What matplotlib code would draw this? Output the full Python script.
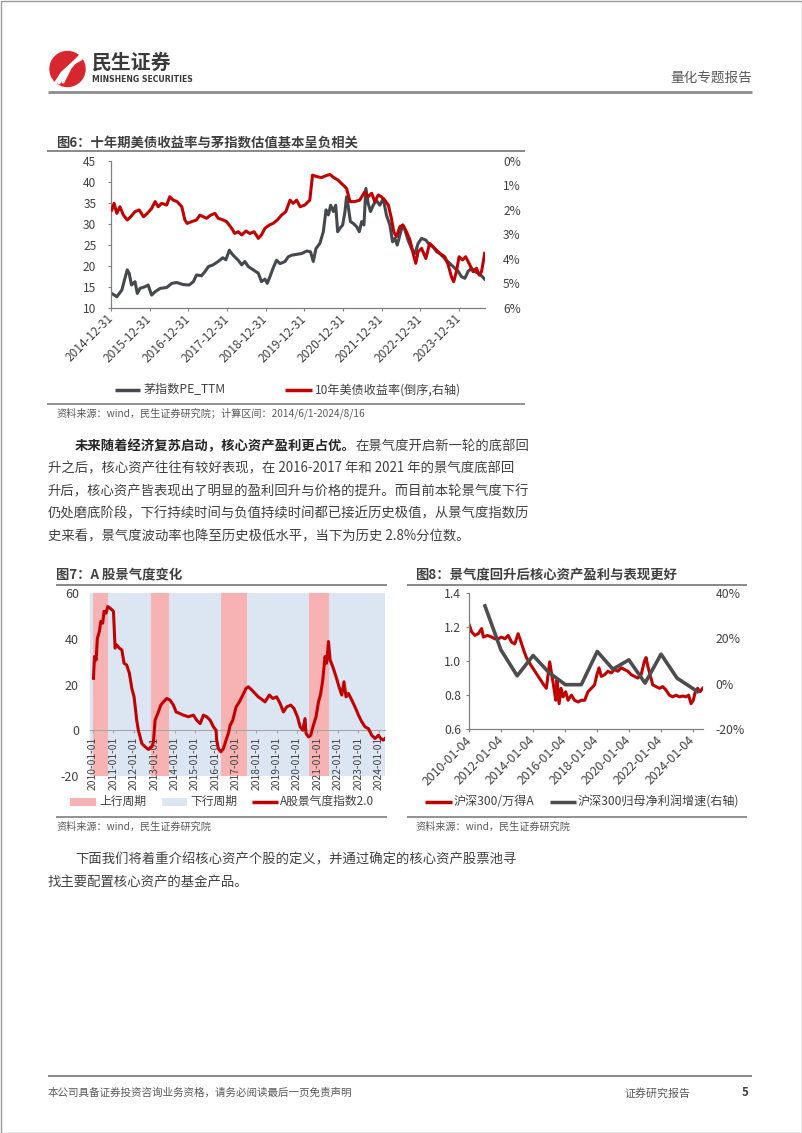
import matplotlib
matplotlib.use('Agg')
import matplotlib.pyplot as plt
from matplotlib.patches import Rectangle, Circle

plt.rcParams['font.family'] = ['Noto Sans CJK SC', 'DejaVu Sans']
plt.rcParams['axes.unicode_minus'] = False

W, H = 802, 1133
RED = '#c00000'
GRAY = '#45484c'
TXT = '#404040'
LINEGRAY = '#7f7f7f'
PINK = '#f7b3b4'
BLUE = '#dce6f2'

# ---- 图6 data (decimal years) ----
pe_year = [2015.02, 2015.15, 2015.28, 2015.36, 2015.42, 2015.47, 2015.53, 2015.62, 2015.68, 2015.75,
           2015.88, 2015.96, 2016.05, 2016.14, 2016.27, 2016.44, 2016.57, 2016.70, 2016.87, 2017.02,
           2017.13, 2017.21, 2017.34, 2017.43, 2017.52, 2017.64, 2017.77, 2017.89, 2017.97, 2018.06,
           2018.12, 2018.20, 2018.29, 2018.38, 2018.46, 2018.55, 2018.68, 2018.81, 2018.89, 2018.98,
           2019.04, 2019.11, 2019.19, 2019.28, 2019.37, 2019.50, 2019.58, 2019.67, 2019.80, 2019.93,
           2020.06, 2020.16, 2020.23, 2020.30, 2020.40, 2020.49, 2020.56, 2020.62, 2020.68, 2020.75,
           2020.81, 2020.86, 2020.92, 2020.99, 2021.05, 2021.09, 2021.13, 2021.19, 2021.26, 2021.35,
           2021.42, 2021.48, 2021.54, 2021.59, 2021.65, 2021.71, 2021.78, 2021.86, 2021.95, 2022.04,
           2022.12, 2022.21, 2022.28, 2022.34, 2022.40, 2022.47, 2022.54, 2022.60, 2022.68, 2022.77,
           2022.86, 2022.94, 2023.03, 2023.14, 2023.24, 2023.33, 2023.42, 2023.50, 2023.59, 2023.67,
           2023.80, 2023.89, 2023.98, 2024.06, 2024.15, 2024.23, 2024.32, 2024.41, 2024.49, 2024.58,
           2024.66]
pe_ttm = [13.4, 12.6, 14.2, 17.0, 19.0, 18.2, 15.4, 16.2, 13.4, 14.6,
          15.0, 15.4, 13.0, 13.8, 14.6, 14.8, 15.8, 16.0, 15.5, 15.4,
          16.2, 17.8, 17.6, 18.6, 19.8, 20.2, 21.0, 21.9, 21.4, 23.7,
          22.9, 22.1, 21.3, 20.2, 21.0, 19.8, 19.0, 18.2, 16.2, 16.8,
          15.8, 17.4, 19.4, 21.3, 20.5, 21.0, 22.1, 22.5, 22.7, 22.9,
          23.5, 23.3, 21.0, 24.1, 25.3, 28.1, 33.3, 32.1, 34.4, 32.9,
          34.4, 28.1, 28.9, 29.7, 32.9, 36.4, 34.4, 30.5, 30.1, 29.3,
          28.1, 30.5, 29.7, 38.4, 34.8, 32.9, 34.4, 35.6, 34.4, 36.0,
          32.1, 29.7, 25.7, 26.5, 24.9, 27.3, 29.7, 28.5, 26.1, 24.1,
          22.9, 25.3, 26.5, 26.1, 24.9, 24.5, 23.3, 22.9, 22.1, 21.3,
          20.2, 19.4, 18.6, 17.4, 17.0, 18.6, 19.4, 18.6, 18.2, 17.6,
          16.8]

ust_year = [2015.02, 2015.08, 2015.15, 2015.23, 2015.32, 2015.42, 2015.51, 2015.62, 2015.73, 2015.84,
            2015.94, 2016.05, 2016.14, 2016.22, 2016.31, 2016.44, 2016.52, 2016.61, 2016.71, 2016.83,
            2016.91, 2016.97, 2017.08, 2017.21, 2017.30, 2017.39, 2017.47, 2017.58, 2017.69, 2017.77,
            2017.90, 2017.99, 2018.12, 2018.20, 2018.29, 2018.38, 2018.49, 2018.59, 2018.70, 2018.81,
            2018.89, 2018.98, 2019.09, 2019.19, 2019.30, 2019.41, 2019.52, 2019.63, 2019.71, 2019.80,
            2019.89, 2020.01, 2020.14, 2020.21, 2020.32, 2020.44, 2020.56, 2020.66, 2020.76, 2020.87,
            2020.96, 2021.09, 2021.18, 2021.30, 2021.43, 2021.56, 2021.65, 2021.74, 2021.82, 2021.91,
            2021.99, 2022.08, 2022.17, 2022.25, 2022.31, 2022.38, 2022.47, 2022.55, 2022.64, 2022.73,
            2022.81, 2022.88, 2022.94, 2023.03, 2023.14, 2023.24, 2023.37, 2023.50, 2023.63, 2023.72,
            2023.80, 2023.86, 2023.93, 2024.00, 2024.09, 2024.17, 2024.28, 2024.36, 2024.45, 2024.52,
            2024.58, 2024.64, 2024.66]
ust_10y = [2.01, 1.74, 2.15, 1.88, 2.22, 2.42, 2.29, 2.08, 2.01, 2.29,
           2.15, 1.95, 1.67, 1.88, 1.74, 1.81, 1.47, 1.61, 1.67, 1.88,
           2.42, 2.56, 2.49, 2.42, 2.22, 2.29, 2.35, 2.22, 2.15, 2.35,
           2.42, 2.49, 2.76, 2.97, 2.90, 3.03, 2.87, 2.97, 2.90, 3.17,
           3.03, 2.76, 2.63, 2.56, 2.42, 2.22, 2.08, 1.61, 1.74, 1.61,
           1.88, 1.81, 1.61, 0.59, 0.65, 0.69, 0.61, 0.56, 0.69, 0.79,
           0.93, 1.13, 1.67, 1.67, 1.61, 1.27, 1.47, 1.33, 1.67, 1.40,
           1.47, 1.61, 1.81, 2.35, 2.90, 3.10, 2.69, 2.63, 2.90, 3.24,
           3.78, 4.19, 3.71, 3.58, 3.99, 3.37, 3.58, 3.78, 3.92, 4.26,
           4.73, 4.94, 4.53, 3.92, 4.05, 3.92, 4.26, 4.53, 4.39, 4.67,
           4.53, 3.99, 3.78]
fig6_ticks = [2015, 2016, 2017, 2018, 2019, 2020, 2021, 2022, 2023, 2024]
fig6_labels = ['2014-12-31', '2015-12-31', '2016-12-31', '2017-12-31', '2018-12-31',
               '2019-12-31', '2020-12-31', '2021-12-31', '2022-12-31', '2023-12-31']

# ---- 图7 data ----
up_start = [2010.00, 2012.83, 2016.27, 2020.57]
up_end = [2010.75, 2013.73, 2017.56, 2021.55]
boom_year = [2010.02, 2010.07, 2010.15, 2010.21, 2010.31, 2010.38, 2010.47, 2010.54, 2010.64, 2010.72,
             2010.83, 2010.92, 2011.00, 2011.08, 2011.16, 2011.29, 2011.41, 2011.52, 2011.65, 2011.78,
             2011.90, 2012.01, 2012.14, 2012.22, 2012.39, 2012.55, 2012.71, 2012.88, 2012.96, 2013.04,
             2013.20, 2013.32, 2013.45, 2013.61, 2013.77, 2013.94, 2014.07, 2014.26, 2014.43, 2014.67,
             2014.92, 2015.08, 2015.25, 2015.41, 2015.57, 2015.74, 2015.90, 2016.03, 2016.06, 2016.14,
             2016.26, 2016.39, 2016.52, 2016.63, 2016.72, 2016.85, 2017.01, 2017.17, 2017.34, 2017.50,
             2017.61, 2017.78, 2017.94, 2018.10, 2018.27, 2018.43, 2018.64, 2018.81, 2019.00, 2019.17,
             2019.33, 2019.49, 2019.69, 2019.85, 2020.02, 2020.15, 2020.28, 2020.39, 2020.44, 2020.56,
             2020.67, 2020.80, 2020.93, 2021.05, 2021.16, 2021.26, 2021.37, 2021.45, 2021.54, 2021.62,
             2021.75, 2021.91, 2022.08, 2022.19, 2022.30, 2022.40, 2022.52, 2022.68, 2022.84, 2023.01,
             2023.17, 2023.33, 2023.50, 2023.66, 2023.82, 2023.99, 2024.10, 2024.23, 2024.31]
boom_idx = [22.7, 32.2, 30.7, 40.2, 43.2, 47.6, 46.8, 52.0, 51.2, 54.1,
            53.4, 52.7, 52.0, 35.9, 37.3, 35.9, 35.1, 29.3, 28.5, 24.9,
            18.3, 14.6, 4.4, 0.0, -5.8, -7.2, -8.4, -7.2, -5.1, 4.4,
            8.0, 11.0, 12.4, 13.9, 13.2, 11.0, 8.0, 7.3, 6.6, 5.9,
            6.6, 4.4, 2.9, 6.6, 5.9, 4.4, 1.5, 0.0, -4.3, -8.0,
            -9.4, -8.0, -4.3, -1.4, 2.2, 4.4, 10.2, 12.4, 15.4, 18.3,
            19.0, 17.6, 16.1, 14.6, 13.5, 12.4, 15.4, 13.9, 14.6, 11.7,
            8.0, 10.2, 11.0, 9.5, 5.9, 1.5, 0.0, 5.1, -1.4, -2.9,
            -2.2, 2.2, 5.9, 12.4, 16.1, 22.0, 32.2, 29.3, 38.8, 30.7,
            27.8, 23.4, 18.3, 15.4, 21.2, 14.6, 16.1, 13.2, 10.2, 6.6,
            3.7, 1.5, 0.7, -2.2, -3.6, -2.2, -3.6, -4.3, -3.6]
fig7_ticks = list(range(2010, 2025))
fig7_labels = ['%d-01-01' % y for y in fig7_ticks]

# ---- 图8 data ----
ratio_year = [2010.00, 2010.15, 2010.35, 2010.56, 2010.77, 2010.88, 2011.13, 2011.40, 2011.60, 2011.81,
              2012.02, 2012.23, 2012.44, 2012.65, 2012.85, 2013.06, 2013.21, 2013.42, 2013.58, 2013.83,
              2014.04, 2014.25, 2014.46, 2014.67, 2014.83, 2015.04, 2015.15, 2015.29, 2015.42, 2015.50,
              2015.63, 2015.75, 2015.88, 2016.04, 2016.19, 2016.40, 2016.60, 2016.81, 2017.02, 2017.23,
              2017.44, 2017.65, 2017.85, 2018.00, 2018.13, 2018.27, 2018.48, 2018.69, 2018.90, 2019.10,
              2019.31, 2019.52, 2019.73, 2019.94, 2020.15, 2020.35, 2020.56, 2020.77, 2020.98, 2021.08,
              2021.19, 2021.33, 2021.50, 2021.71, 2021.92, 2022.13, 2022.33, 2022.54, 2022.75, 2022.96,
              2023.17, 2023.38, 2023.58, 2023.75, 2023.90, 2024.04, 2024.17, 2024.31, 2024.46, 2024.63]
hs300_wind = [1.21, 1.17, 1.15, 1.16, 1.19, 1.14, 1.15, 1.14, 1.13, 1.13,
              1.14, 1.13, 1.15, 1.11, 1.10, 1.16, 1.12, 1.06, 1.02, 0.98,
              0.95, 0.92, 0.89, 0.86, 0.84, 0.995, 0.93, 0.85, 0.77, 0.89,
              0.75, 0.84, 0.79, 0.82, 0.77, 0.80, 0.77, 0.76, 0.77, 0.77,
              0.82, 0.84, 0.86, 0.92, 0.96, 0.91, 0.92, 0.94, 0.93, 0.95,
              0.94, 0.96, 0.95, 0.94, 0.92, 0.91, 0.90, 0.92, 1.00, 1.02,
              0.97, 0.92, 0.86, 0.85, 0.84, 0.85, 0.83, 0.80, 0.79, 0.80,
              0.79, 0.795, 0.79, 0.80, 0.75, 0.77, 0.82, 0.84, 0.82, 0.84]
np_year = [2010.98, 2011.98, 2013.00, 2014.00, 2014.98, 2016.02, 2017.02, 2018.02,
           2019.00, 2020.00, 2021.02, 2022.02, 2023.02, 2024.30]
np_growth = [34.2, 14.9, 3.5, 12.4, 5.0, -0.4, -0.4, 14.2,
             6.4, 10.5, 0.3, 13.0, 2.5, -3.4]
fig8_ticks = [2010, 2012, 2014, 2016, 2018, 2020, 2022, 2024]
fig8_labels = ['%d-01-04' % y for y in fig8_ticks]

body1 = ['升之后，核心资产往往有较好表现，在 2016-2017 年和 2021 年的景气度底部回',
         '升后，核心资产皆表现出了明显的盈利回升与价格的提升。而目前本轮景气度下行',
         '仍处磨底阶段，下行持续时间与负值持续时间都已接近历史极值，从景气度指数历',
         '史来看，景气度波动率也降至历史极低水平，当下为历史 2.8%分位数。']

fig = plt.figure(figsize=(W / 100, H / 100), dpi=100)
bg = fig.add_axes([0, 0, 1, 1])
bg.set_xlim(0, W)
bg.set_ylim(H, 0)
bg.axis('off')


def px_axes(l, t, r, b):
    return fig.add_axes([l / W, 1 - b / H, (r - l) / W, (b - t) / H])


def hline(y, x0, x1, lw=1.2, color=LINEGRAY):
    bg.plot([x0, x1], [y, y], color=color, lw=lw, solid_capstyle='butt')


# page frame
bg.add_patch(Rectangle((0.5, 0.5), W - 1, H - 1, fill=False, ec='#9a9a9a', lw=1))

# ---- header ----
bg.add_patch(Circle((67.5, 69), 17.5, color='#d7262e'))
for k in range(3):
    xs = [55 + k * 4, 62 + k * 4, 72 + k * 3.5, 81 + k * 1.5]
    ys = [84 - k * 1, 73 - k * 2.5, 64 - k * 3.5, 59 - k * 4]
    bg.plot(xs, ys, color='white', lw=2.2, solid_capstyle='round')
bg.text(92, 62, '民生证券', fontsize=14.3, fontweight='bold', color='#3a3a3a', va='center', ha='left')
bg.text(92, 79.5, 'MINSHENG SECURITIES', fontsize=5.6, fontweight='bold', color='#3a3a3a',
        va='center', ha='left', family=['DejaVu Sans'])
bg.text(752, 78, '量化专题报告', fontsize=9.8, color='#595959', va='center', ha='right')
hline(92, 48, 752, lw=2, color='#8c8c8c')

# ---- 图6 ----
bg.text(56, 143, '图6：十年期美债收益率与茅指数估值基本呈负相关', fontsize=9.6, fontweight='bold',
        color=TXT, va='center')
hline(150.5, 47, 525, lw=1.3)

ax6 = px_axes(111, 160.7, 485, 307.7)
ax6.plot(pe_year, pe_ttm, color=GRAY, lw=2.2)
ax6.set_xlim(2015.0, 2024.67)
ax6.set_ylim(10, 45)
ax6.set_yticks(range(10, 50, 5))
ax6.set_xticks(fig6_ticks)
ax6.set_xticklabels(fig6_labels, rotation=45, ha='right', va='center', rotation_mode='anchor')
for s in ['top', 'right']:
    ax6.spines[s].set_visible(False)
for s in ['left', 'bottom']:
    ax6.spines[s].set_color('#808080')
    ax6.spines[s].set_linewidth(0.9)
ax6.tick_params(axis='both', colors='#808080', labelcolor=TXT, labelsize=8.6, length=2.5, width=0.8)
ax6.tick_params(axis='y', pad=8)
ax6.tick_params(axis='x', pad=4)
ax6.patch.set_alpha(0)
ax6r = ax6.twinx()
ax6r.plot(ust_year, ust_10y, color=RED, lw=2.2)
ax6r.set_ylim(6, 0)
ax6r.set_yticks(range(0, 7))
ax6r.set_yticklabels(['%d%%' % v for v in range(0, 7)])
for s in ax6r.spines.values():
    s.set_visible(False)
ax6r.tick_params(axis='y', length=0, pad=13, labelsize=8.6, labelcolor=TXT)

bg.plot([115, 140], [390, 390], color=GRAY, lw=2.5, solid_capstyle='butt')
bg.text(143, 390, '茅指数PE_TTM', fontsize=8.7, color=TXT, va='center')
bg.plot([285, 312], [390, 390], color=RED, lw=2.5, solid_capstyle='butt')
bg.text(315, 390, '10年美债收益率(倒序,右轴)', fontsize=8.7, color=TXT, va='center')
hline(404, 47, 525)
bg.text(56, 413.5, '资料来源：wind，民生证券研究院；计算区间：2014/6/1-2024/8/16', fontsize=7.3,
        color='#595959', va='center')

# ---- body paragraph ----
BODY_FS = 9.6
b1 = bg.text(75, 446, '未来随着经济复苏启动，核心资产盈利更占优。', fontsize=BODY_FS, fontweight='bold',
             color='#262626', va='center')
bg.annotate('在景气度开启新一轮的底部回', xy=(1, 0), xycoords=b1, va='bottom', ha='left',
            fontsize=BODY_FS, color=TXT)
for i, line in enumerate(body1):
    bg.text(48, 468.5 + i * 22.5, line, fontsize=BODY_FS, color=TXT, va='center')

# ---- 图7 ----
bg.text(56, 575, '图7：A 股景气度变化', fontsize=9.6, fontweight='bold', color=TXT, va='center')
hline(584.5, 56, 387, lw=1.3)

ax7 = px_axes(90, 593, 385, 776)
for s in ['top', 'right', 'left']:
    ax7.spines[s].set_visible(False)
ax7.spines['bottom'].set_position(('data', 0))
ax7.spines['bottom'].set_color('#a6a6a6')
ax7.spines['bottom'].set_linewidth(0.8)
ax7.spines['bottom'].set_zorder(2)
ax7.set_xlim(2009.85, 2024.31)
ax7.set_ylim(-20, 60)
ax7.axvspan(2009.85, 2024.31, color=BLUE, lw=0, zorder=0)
for s, e in zip(up_start, up_end):
    ax7.axvspan(s, e, color=PINK, lw=0, zorder=1)
ax7.plot(boom_year, boom_idx, color=RED, lw=2.2, zorder=3)
ax7.set_yticks(range(-20, 80, 20))
ax7.set_xticks(fig7_ticks)
ax7.set_xticklabels(fig7_labels)
ax7.tick_params(axis='y', length=0, pad=8, labelsize=9, labelcolor=TXT)
ax7.tick_params(axis='x', length=2.5, width=0.8, colors='#a6a6a6', labelcolor=TXT, labelsize=7.4,
                pad=2, labelrotation=90)

bg.add_patch(Rectangle((70, 797.5), 26, 8.5, color=PINK, lw=0))
bg.text(99, 801.7, '上行周期', fontsize=8.5, color=TXT, va='center')
bg.add_patch(Rectangle((161.7, 797.5), 25, 8.5, color=BLUE, lw=0))
bg.text(190, 801.7, '下行周期', fontsize=8.5, color=TXT, va='center')
bg.plot([251.7, 278], [801.7, 801.7], color=RED, lw=2.5, solid_capstyle='butt')
bg.text(280, 801.7, 'A股景气度指数2.0', fontsize=8.5, color=TXT, va='center')
hline(816.7, 56, 387)
bg.text(56, 826.5, '资料来源：wind，民生证券研究院', fontsize=7.3, color='#595959', va='center')

# ---- 图8 ----
bg.text(415, 575, '图8：景气度回升后核心资产盈利与表现更好', fontsize=9.6, fontweight='bold',
        color=TXT, va='center')
hline(584.5, 407, 747, lw=1.3)

ax8 = px_axes(469, 592.7, 703, 729.3)
ax8.plot(ratio_year, hs300_wind, color=RED, lw=2.2)
ax8.set_xlim(2009.98, 2024.65)
ax8.set_ylim(0.6, 1.4)
ax8.set_yticks([0.6, 0.8, 1.0, 1.2, 1.4])
ax8.set_yticklabels(['%.1f' % v for v in [0.6, 0.8, 1.0, 1.2, 1.4]])
ax8.set_xticks(fig8_ticks)
ax8.set_xticklabels(fig8_labels, rotation=45, ha='right', va='center', rotation_mode='anchor')
for s in ['top', 'right']:
    ax8.spines[s].set_visible(False)
for s in ['left', 'bottom']:
    ax8.spines[s].set_color('#808080')
    ax8.spines[s].set_linewidth(0.9)
ax8.tick_params(axis='both', colors='#808080', labelcolor=TXT, labelsize=8.8, length=2.5, width=0.8)
ax8.tick_params(axis='y', pad=3)
ax8.tick_params(axis='x', pad=4)
ax8.patch.set_alpha(0)
ax8r = ax8.twinx()
ax8r.plot(np_year, np_growth, color='#4d4d4d', lw=2.6)
ax8r.set_ylim(-20, 40)
ax8r.set_yticks([-20, 0, 20, 40])
ax8r.set_yticklabels(['%d%%' % v for v in [-20, 0, 20, 40]])
for s in ax8r.spines.values():
    s.set_visible(False)
ax8r.tick_params(axis='y', length=0, pad=9, labelsize=8.8, labelcolor=TXT)

bg.plot([425, 451.7], [801.7, 801.7], color=RED, lw=2.5, solid_capstyle='butt')
bg.text(454, 801.7, '沪深300/万得A', fontsize=8.7, color=TXT, va='center')
bg.plot([550, 576], [801.7, 801.7], color='#4d4d4d', lw=2.5, solid_capstyle='butt')
bg.text(578, 801.7, '沪深300归母净利润增速(右轴)', fontsize=8.7, color=TXT, va='center')
hline(816.7, 407, 747)
bg.text(415, 826.5, '资料来源：wind，民生证券研究院', fontsize=7.3, color='#595959', va='center')

# ---- second paragraph ----
bg.text(75, 859, '下面我们将着重介绍核心资产个股的定义，并通过确定的核心资产股票池寻',
        fontsize=BODY_FS, color=TXT, va='center')
bg.text(48, 882, '找主要配置核心资产的基金产品。', fontsize=BODY_FS, color=TXT, va='center')

# ---- footer ----
hline(1076, 48, 752, lw=1.5, color='#8c8c8c')
bg.text(48, 1093, '本公司具备证券投资咨询业务资格，请务必阅读最后一页免责声明', fontsize=7.6,
        color='#595959', va='center')
bg.text(624, 1093, '证券研究报告', fontsize=7.9, color='#595959', va='center')
bg.text(745, 1093, '5', fontsize=8.2, fontweight='bold', color='#404040', va='center', ha='center')

fig.savefig('out.png', dpi=100)
